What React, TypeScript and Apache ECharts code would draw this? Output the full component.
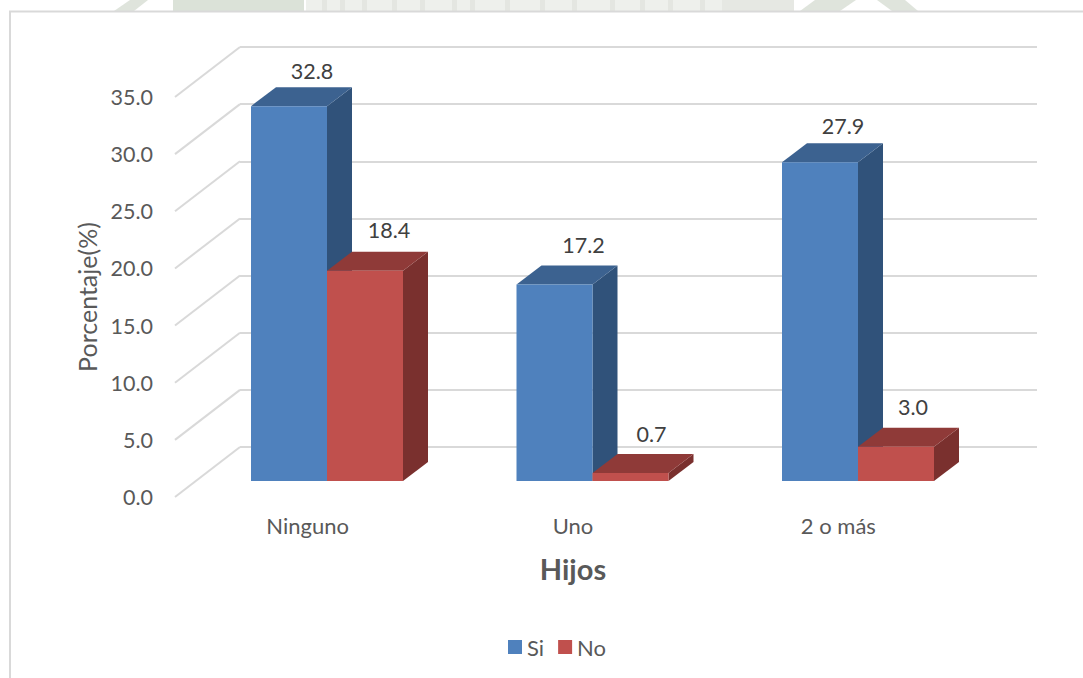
import React, { useEffect, useRef } from "react";
import * as echarts from "echarts";

const categories = ["Ninguno", "Uno", "2 o más"];
const siValues = [32.8, 17.2, 27.9];
const noValues = [18.4, 0.7, 3.0];
const yTicks = [0, 5, 10, 15, 20, 25, 30, 35];

const FONT = "Lato, Carlito, sans-serif";
const GRID_GREY = "#d9d9d9";
const BAR_W = 76;
const BAR_DX = 25;
const BAR_DY = 19;
const WALL_DX = 65;
const WALL_DY = 50;

const SI = { front: "#4f81bd", top: "#3c6290", side: "#30527a" };
const NO = { front: "#c0504d", top: "#8f3a38", side: "#7a302e" };

// Per-column placement tweaks for the value captions, as [dx, dy].
const siCaptionShift = [[0, 2], [6, -2], [0, 1]];
const noCaptionShift = [[1, -4], [-2, -2], [-6, -3]];

// Draws one extruded column: front face, top face, side face and its value.
function columnRenderer(colors: typeof SI, slot: number, shifts: number[][]) {
  return (_params: any, api: any) => {
    const cat = api.value(0);
    const value = api.value(1);
    const base = api.coord([cat, 0]);
    const head = api.coord([cat, value]);
    const x0 = base[0] + slot * BAR_W;
    const x1 = x0 + BAR_W;
    const yB = base[1];
    const yT = head[1];
    return {
      type: "group",
      children: [
        {
          type: "polygon",
          shape: { points: [[x1, yB], [x1 + BAR_DX, yB - BAR_DY], [x1 + BAR_DX, yT - BAR_DY], [x1, yT]] },
          style: { fill: colors.side },
        },
        {
          type: "polygon",
          shape: { points: [[x0, yT], [x0 + BAR_DX, yT - BAR_DY], [x1 + BAR_DX, yT - BAR_DY], [x1, yT]] },
          style: { fill: colors.top },
        },
        {
          type: "rect",
          shape: { x: x0, y: yT, width: BAR_W, height: yB - yT },
          style: { fill: colors.front },
        },
        {
          type: "text",
          style: {
            text: value.toFixed(1),
            x: x0 + 61 + shifts[cat][0],
            y: yT - 37 + shifts[cat][1],
            align: "center",
            verticalAlign: "middle",
            font: `21.5px ${FONT}`,
            fill: "#404040",
          },
        },
      ],
    };
  };
}

// Slanted floor-to-wall lines joining each value tick to the back wall gridline.
function wallEdgeRenderer(params: any, api: any) {
  const p = api.coord([0, api.value(0)]);
  const x = params.coordSys.x;
  return {
    type: "line",
    shape: { x1: x, y1: p[1], x2: x + WALL_DX, y2: p[1] - WALL_DY },
    style: { stroke: GRID_GREY, lineWidth: 2 },
  };
}

// Faint crest strip showing above the chart frame.
const crestBands: [number, number, string][] = [
  [173, 304, "#dbe2d8"],
  [306, 722, "#eef0ec"],
  [722, 794, "#e6e8e3"],
];
const crestStrokes = [322, 340, 362, 392, 420, 452, 470, 505, 540, 572, 610, 640, 668, 700];

export default function App() {
  const ref = useRef<HTMLDivElement>(null);
  useEffect(() => {
    const chart = echarts.init(ref.current!, undefined, { renderer: "svg" });
    const hiddenCat = { type: "category", data: categories, show: false };
    chart.setOption({
      animation: false,
      backgroundColor: "#ffffff",
      textStyle: { fontFamily: FONT },
      graphic: [
        ...crestBands.map(([a, b, fill]) => ({
          type: "rect",
          shape: { x: a, y: 0, width: b - a, height: 11 },
          style: { fill },
        })),
        ...crestStrokes.map((x) => ({
          type: "rect",
          shape: { x, y: 0, width: 5, height: 11 },
          style: { fill: "#e4e6e1" },
        })),
        { type: "polygon", shape: { points: [[114, 11], [130, 0], [148, 0], [134, 11]] }, style: { fill: "#dfe4dc" } },
        { type: "polygon", shape: { points: [[800, 11], [815, 0], [856, 0], [840, 11]] }, style: { fill: "#dfe4dc" } },
        { type: "polygon", shape: { points: [[877, 0], [905, 0], [918, 11], [892, 11]] }, style: { fill: "#dfe4dc" } },
        {
          type: "polyline",
          shape: { points: [[10, 678], [10, 11.5], [1083, 11.5]] },
          style: { stroke: GRID_GREY, lineWidth: 2, fill: "none" },
        },
      ],
      legend: {
        left: 503,
        top: 631,
        itemWidth: 14,
        itemHeight: 14,
        itemGap: 14,
        icon: "rect",
        data: ["Si", "No"],
        textStyle: { fontSize: 22, color: "#595959", fontFamily: FONT, padding: [0, 0, 0, 0] },
      },
      grid: [
        { left: 175, top: 97, width: 796, height: 400 },
        { left: 240, top: 47, width: 797, height: 400 },
        { left: 194.25, top: 81, width: 796.5, height: 400 },
      ],
      xAxis: [
        {
          type: "category",
          gridIndex: 0,
          data: categories,
          axisLine: { show: false },
          axisTick: { show: false },
          axisLabel: { fontSize: 22, color: "#595959", margin: 17, fontFamily: FONT },
          name: "Hijos",
          nameLocation: "middle",
          nameGap: 57,
          nameTextStyle: { fontSize: 29, fontWeight: "bold", color: "#595959", fontFamily: FONT },
        },
        { ...hiddenCat, gridIndex: 1 },
        { ...hiddenCat, gridIndex: 2 },
      ],
      yAxis: [
        {
          type: "value",
          gridIndex: 0,
          min: 0,
          max: 35,
          interval: 5,
          axisLine: { show: false },
          axisTick: { show: false },
          splitLine: { show: false },
          axisLabel: {
            fontSize: 21.5,
            color: "#595959",
            margin: 22,
            fontFamily: FONT,
            padding: [0, 0, 4, 0],
            formatter: (v: number) => v.toFixed(1),
          },
          name: "Porcentaje(%)",
          nameLocation: "middle",
          nameGap: 74,
          nameTextStyle: { fontSize: 25, color: "#595959", fontFamily: FONT },
        },
        {
          type: "value",
          gridIndex: 1,
          min: 0,
          max: 35,
          interval: 5,
          axisLine: { show: false },
          axisTick: { show: false },
          axisLabel: { show: false },
          splitLine: { show: true, lineStyle: { color: GRID_GREY, width: 2 } },
        },
        { type: "value", gridIndex: 2, min: 0, max: 35, interval: 5, show: false },
      ],
      series: [
        {
          type: "custom",
          name: "edges",
          xAxisIndex: 0,
          yAxisIndex: 0,
          data: yTicks.map((v) => [v]),
          encode: { y: 0 },
          renderItem: wallEdgeRenderer,
          silent: true,
        },
        {
          type: "custom",
          name: "Si",
          xAxisIndex: 2,
          yAxisIndex: 2,
          itemStyle: { color: SI.front },
          data: siValues.map((v, i) => [i, v]),
          encode: { x: 0, y: 1 },
          renderItem: columnRenderer(SI, -1, siCaptionShift),
        },
        {
          type: "custom",
          name: "No",
          xAxisIndex: 2,
          yAxisIndex: 2,
          itemStyle: { color: NO.front },
          data: noValues.map((v, i) => [i, v]),
          encode: { x: 0, y: 1 },
          renderItem: columnRenderer(NO, 0, noCaptionShift),
        },
      ],
    });
    return () => chart.dispose();
  }, []);
  return <div ref={ref} style={{ position: "absolute", left: 0, top: 0, width: 1083, height: 678 }} />;
}
